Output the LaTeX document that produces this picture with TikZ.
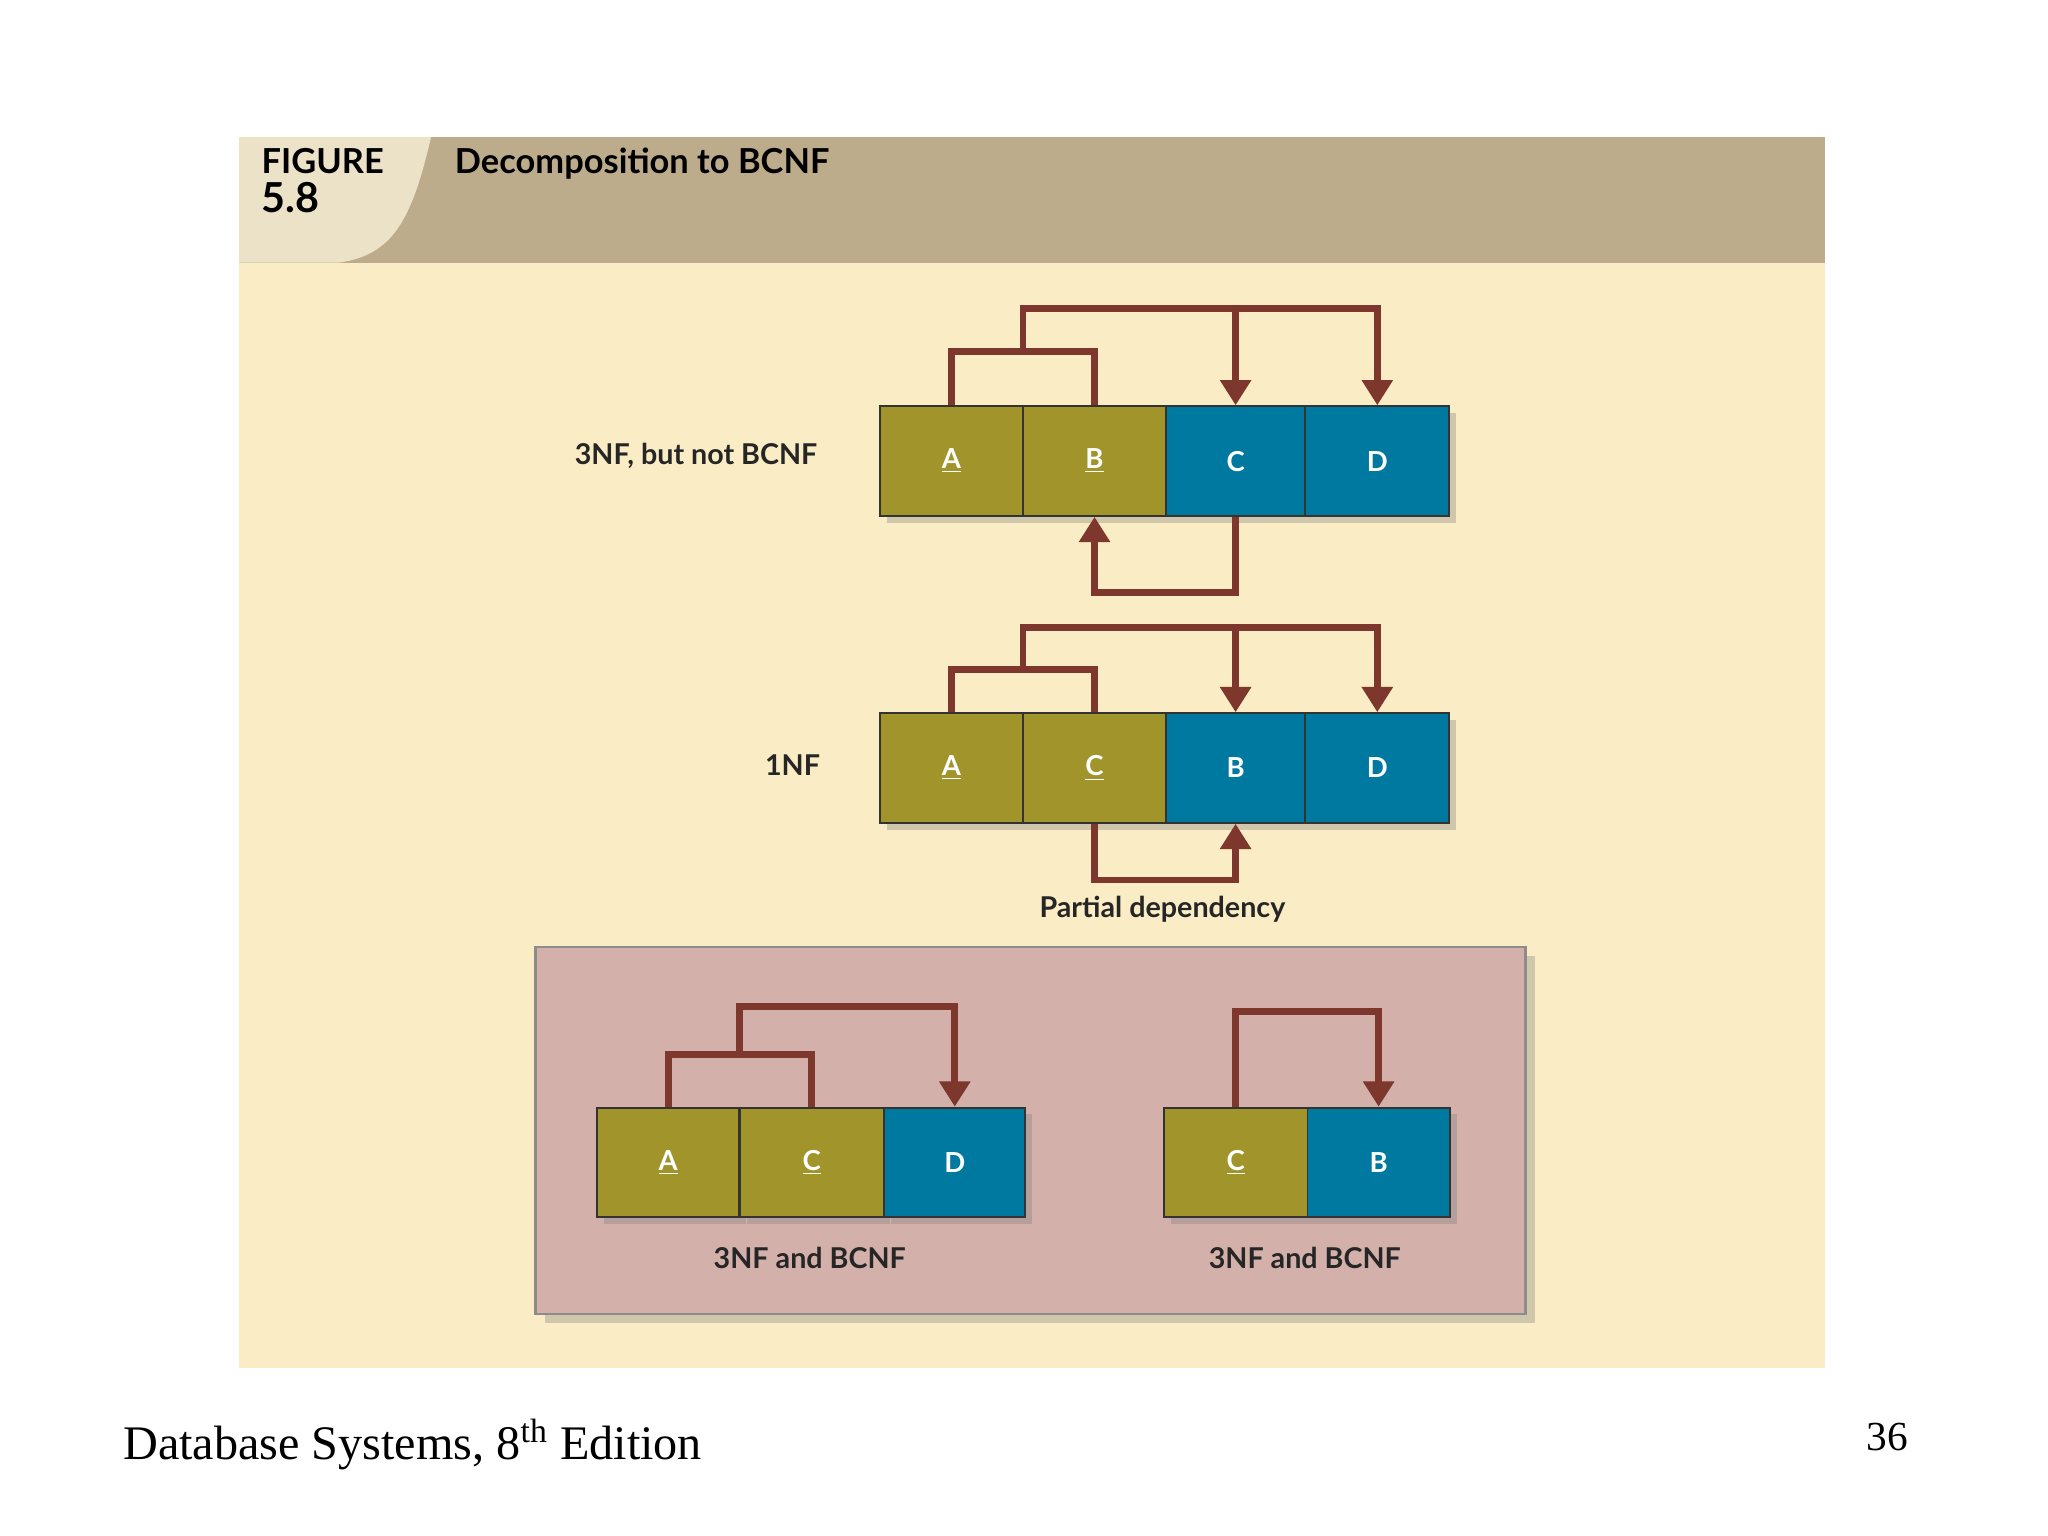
\documentclass[tikz,border=0pt]{standalone}
\usepackage{fontspec}
\setmainfont{Liberation Serif}
\newfontfamily\dsans{Lato}
\usetikzlibrary{arrows.meta,calc,shadows}
\definecolor{tanh}{RGB}{189,172,140}
\definecolor{tanl}{RGB}{236,226,200}
\definecolor{bodyc}{RGB}{250,236,196}
\definecolor{oliv}{RGB}{160,148,42}
\definecolor{bluec}{RGB}{0,121,160}
\definecolor{arrc}{RGB}{125,55,45}
\definecolor{pinkc}{RGB}{211,176,170}
\begin{document}
\begin{tikzpicture}[x=0.02cm,y=-0.02cm,
  cell/.style={draw=black!80,line width=0.8pt,minimum width=108\pgflinewidth,minimum height=84*0.02cm,inner sep=0pt,text=white,font=\dsans\bfseries\fontsize{12}{14}\selectfont,drop shadow={shadow xshift=3pt,shadow yshift=-3pt,opacity=.35}},
  ob/.style={cell,fill=oliv},
  bb/.style={cell,fill=bluec},
  arr/.style={draw=arrc,line width=3pt,-{Triangle[width=13pt,length=11pt]}},
  ln/.style={draw=arrc,line width=3pt},
  lab/.style={font=\dsans\bfseries\fontsize{12.5}{14}\selectfont,text=black!85}]
\useasboundingbox (0,0) rectangle (1568,1176);
\fill[white] (0,0) rectangle (1568,1176);
\fill[bodyc] (183,201) rectangle (1397,1047);
\fill[tanh] (183,105) rectangle (1397,201);
\fill[tanl] (183,105) -- (330,105) .. controls (315,170) and (300,195) .. (260,201) -- (183,201) -- cycle;
\node[anchor=north west,align=left,font=\dsans\bfseries\fontsize{15}{18}\selectfont,inner sep=0pt] (fig) at (200,113) {FIGURE\\[-1pt]{\fontsize{18}{20}\selectfont 5.8}};
\node[anchor=north west,font=\dsans\bfseries\fontsize{15}{18}\selectfont,inner sep=0pt] (title) at (348,113) {Decomposition to BCNF};
% row 1
\tikzset{w1/.style={minimum width=109*0.02cm},w2/.style={minimum width=110*0.02cm},w3/.style={minimum width=106*0.02cm}}
\node[ob,w1] (a1) at (728.5,353) {\underline{A}};
\node[ob,w2] (b1) at (838,353) {\underline{B}};
\node[bb,w3] (c1) at (946,353) {C};
\node[bb,w2] (d1) at (1054.5,353) {D};
\node[lab,anchor=east] (l1) at (632,349) {3NF, but not BCNF};
\draw[ln] (a1.north) -- ++(0,-41) -| (b1.north);
\coordinate (m1) at ($(a1.north)!0.5!(b1.north)+(0,-41)$);
\draw[arr] (m1) -- ++(0,-33) -| (d1.north);
\draw[arr] (c1.north |- 0,237) -- (c1.north);
\draw[arr] (c1.south) -- ++(0,58) -| (b1.south);
% row 2
\node[ob,w1] (a2) at (728.5,588) {\underline{A}};
\node[ob,w2] (c2) at (838,588) {\underline{C}};
\node[bb,w3] (b2) at (946,588) {B};
\node[bb,w2] (d2) at (1054.5,588) {D};
\node[lab,anchor=east] (l2) at (634,586) {1NF};
\draw[ln] (a2.north) -- ++(0,-33) -| (c2.north);
\coordinate (m2) at ($(a2.north)!0.5!(c2.north)+(0,-33)$);
\draw[arr] (m2) -- ++(0,-32) -| (d2.north);
\draw[arr] (b2.north |- 0,481) -- (b2.north);
\draw[arr] (c2.south) -- ++(0,43) -| (b2.south);
\node[lab] (pd) at (890,696) {Partial dependency};
% pink box
\node[draw=black!45,line width=1.2pt,fill=pinkc,minimum width=758*0.02cm,minimum height=281*0.02cm,drop shadow={shadow xshift=4pt,shadow yshift=-4pt,opacity=.35}] (pk) at (789,865.5) {};
\node[ob,w1] (a3) at (511.5,890) {\underline{A}};
\node[ob,w2] (c3) at (621.5,890) {\underline{C}};
\node[bb,minimum width=108*0.02cm] (d3) at (731,890) {D};
\draw[ln] (a3.north) -- ++(0,-40) -| (c3.north);
\coordinate (m3) at ($(a3.north)!0.5!(c3.north)+(0,-40)$);
\draw[arr] (m3) -- ++(0,-37) -| (d3.north);
\node[lab] (t3) at (620,963) {3NF and BCNF};
\node[ob,w2] (c4) at (946,890) {\underline{C}};
\node[bb,minimum width=109*0.02cm] (b4) at (1055.5,890) {B};
\draw[arr] (c4.north) -- ++(0,-73) -| (b4.north);
\node[lab] (t4) at (999,963) {3NF and BCNF};
% footer
\node[anchor=west,font=\fontsize{21}{24}\selectfont,inner sep=0pt] (ft) at (94,1106) {Database Systems, 8\textsuperscript{th} Edition};
\node[font=\fontsize{18}{20}\selectfont,inner sep=0pt] (pg) at (1445,1100) {36};
\end{tikzpicture}
\end{document}
